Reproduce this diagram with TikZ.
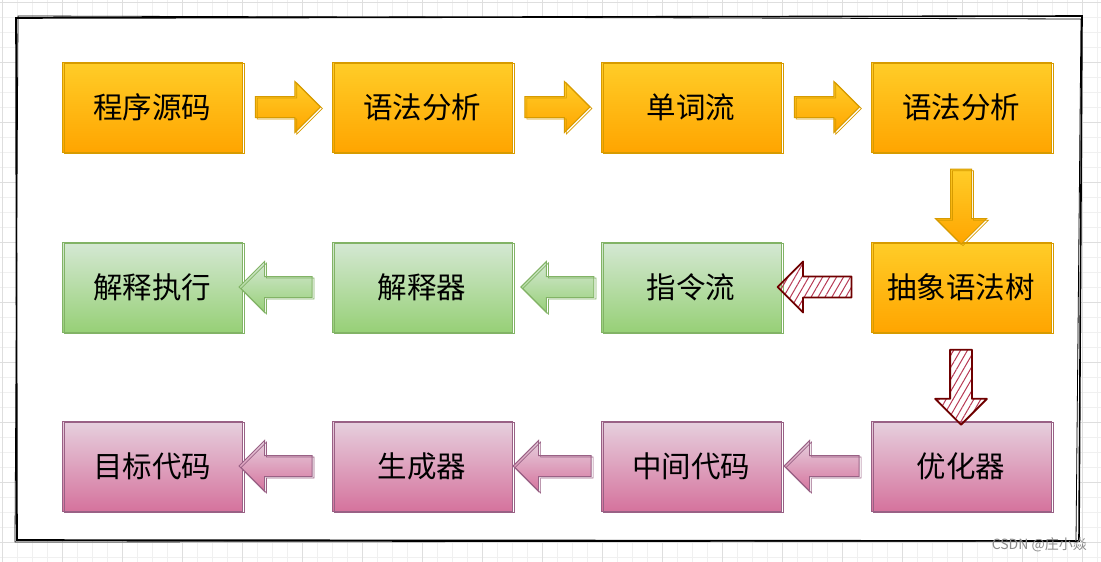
\documentclass[tikz,border=0pt]{standalone}
\usepackage{fontspec}
\setmainfont{Noto Sans CJK SC}
\usetikzlibrary{shapes.arrows,patterns.meta,calc}
\definecolor{orT}{HTML}{FFCD28}
\definecolor{orB}{HTML}{FFA500}
\definecolor{orD}{HTML}{D79B00}
\definecolor{grT}{HTML}{D5E8D4}
\definecolor{grB}{HTML}{97D077}
\definecolor{grD}{HTML}{82B366}
\definecolor{pkT}{HTML}{E6D0DE}
\definecolor{pkB}{HTML}{D5739D}
\definecolor{pkD}{HTML}{996185}
\definecolor{rdD}{HTML}{6F0000}
\definecolor{hatchc}{HTML}{B83A55}
\definecolor{gridmin}{HTML}{F0F0F0}
\definecolor{gridmaj}{HTML}{DEDEDE}
\tikzset{
  sk/.style={postaction={draw=#1, line width=0.7pt, transform canvas={shift={(2pt,-1.5pt)}}}},
  box/.style={rectangle, minimum width=180pt, minimum height=90pt, inner sep=0pt,
    font=\fontsize{29.5}{32}\selectfont, line width=1pt},
  orbox/.style={box, top color=orT, bottom color=orB, draw=orD, sk=orD},
  grbox/.style={box, top color=grT, bottom color=grB, draw=grD, sk=grD},
  pkbox/.style={box, top color=pkT, bottom color=pkB, draw=pkD, sk=pkD},
  arr/.style={single arrow, minimum height=#1, minimum width=0pt, inner sep=10pt,
    single arrow head extend=15pt, line width=1pt},
  orarr/.style={arr=#1, top color=orT, bottom color=orB, draw=orD, sk=orD},
  grarr/.style={arr=#1, top color=grT, bottom color=grB, draw=grD, sk=grD},
  pkarr/.style={arr=#1, top color=pkT, bottom color=pkB, draw=pkD, sk=pkD},
  rdarr/.style={arr=#1, draw=rdD, line width=1.8pt, line join=round,
    pattern={Lines[angle=60,distance=6pt,line width=1pt]}, pattern color=hatchc},
}
\begin{document}
\begin{tikzpicture}[x=1pt,y=-1pt]
\useasboundingbox (0,0) rectangle (1101,562);
% grid
\foreach \i in {0,...,73} \draw[gridmin, line width=0.6pt] (2+15*\i,0) -- (2+15*\i,562);
\foreach \i in {0,...,37} \draw[gridmin, line width=0.6pt] (0,2+15*\i) -- (1101,2+15*\i);
\foreach \i in {0,...,18} \draw[gridmaj, line width=0.6pt] (2+60*\i,0) -- (2+60*\i,562);
\foreach \i in {0,...,9} \draw[gridmaj, line width=0.6pt] (0,2+60*\i) -- (1101,2+60*\i);
% frame
\fill[white] (17,17) -- (1082,16) -- (1078,541) -- (17,541) -- cycle;
\draw[black, line width=1.6pt] (16,18) -- (1082,16) -- (1079,541) -- (17,540) -- cycle;
\draw[black, line width=0.8pt] (18,16) -- (1081,19) -- (1076,541) -- (15,542) -- cycle;
% boxes
\node[orbox] (n1) at (152,107) {程序源码};
\node[orbox] (n2) at (422,107) {语法分析};
\node[orbox] (n3) at (691,107) {单词流};
\node[orbox] (n4) at (961,107) {语法分析};
\node[orbox] (n5) at (961,287) {抽象语法树};
\node[grbox] (n6) at (691,287) {指令流};
\node[grbox] (n7) at (422,287) {解释器};
\node[grbox] (n8) at (152,287) {解释执行};
\node[pkbox] (n9) at (961,466) {优化器};
\node[pkbox] (n10) at (691,466) {中间代码};
\node[pkbox] (n11) at (422,466) {生成器};
\node[pkbox] (n12) at (152,466) {目标代码};
% arrows
\node[orarr=65pt] (a1) at ($(n1.east)!0.45!(n2.west)$) {};
\node[orarr=65pt] (a2) at ($(n2.east)!0.45!(n3.west)$) {};
\node[orarr=65pt] (a3) at ($(n3.east)!0.45!(n4.west)$) {};
\node[orarr=75pt, shape border rotate=270] (a4) at ($(n4.south)!0.55!(n5.north)$) {};
\node[rdarr=74pt, shape border rotate=180] (a5) at ($(n5.west)!0.57!(n6.east)$) {};
\node[grarr=73pt, shape border rotate=180] (a6) at ($(n6.west)!0.43!(n7.east)$) {};
\node[grarr=73pt, shape border rotate=180] (a7) at ($(n7.west)!0.57!(n8.east)$) {};
\node[rdarr=75pt, shape border rotate=270] (a8) at ($(n5.south)!0.56!(n9.north)$) {};
\node[pkarr=75pt, shape border rotate=180] (a9) at ($(n9.west)!0.49!(n10.east)$) {};
\node[pkarr=78pt, shape border rotate=180] (a10) at ($(n10.west)!0.49!(n11.east)$) {};
\node[pkarr=73pt, shape border rotate=180] (a11) at ($(n11.west)!0.57!(n12.east)$) {};
% watermark
\node[text=black!45, font=\fontsize{14}{16}\selectfont, anchor=east, inner sep=0pt] (wm) at (1087,545) {CSDN @庄小焱};
\end{tikzpicture}
\end{document}
